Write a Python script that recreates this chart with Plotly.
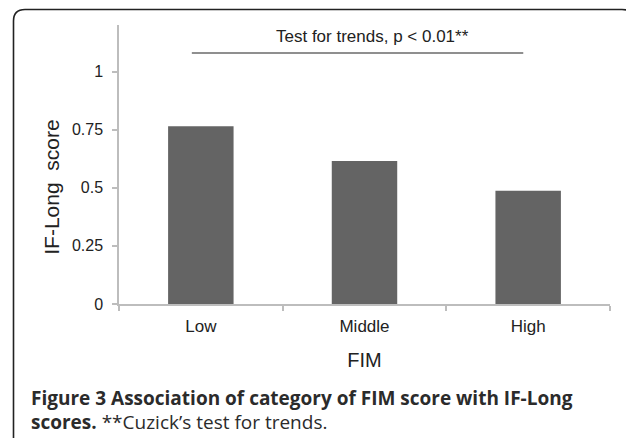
import plotly.graph_objects as go

# data
categories = ["Low", "Middle", "High"]
if_long_score = [0.765, 0.615, 0.487]
y_tickvals = [0, 0.25, 0.5, 0.75, 1]
y_ticktext = ["0", "0.25", "0.5", "0.75", "1"]
trend_label = "Test for trends, p < 0.01**"

# the page body has an 8px margin, so the figure is drawn 8px in from the corner
O = 8
W, H = 634 - O, 438 - O
L, R, T, B = 119 - O, 24, 25 - O, 134
pw, ph = W - L - R, H - T - B


def px(x):
    # screen x (reference pixels) -> paper x
    return (x - O - L) / pw


def py(y):
    # screen y (reference pixels) -> paper y
    return (H - B - (y - O)) / ph


fig = go.Figure()

fig.add_trace(go.Bar(
    x=categories,
    y=if_long_score,
    width=0.4,
    marker=dict(color="#646464", line=dict(width=0)),
    showlegend=False,
))

# trend bracket line
fig.add_shape(type="line", xref="x", yref="y",
              x0=-0.055, x1=1.97, y0=1.08, y1=1.08,
              line=dict(color="#6a6a6a", width=1.5))
fig.add_annotation(x=1.05, y=1.15, xref="x", yref="y", text=trend_label,
                   showarrow=False, font=dict(size=17, color="#222"))

# y title, centred on the 0..1 span like the original
fig.add_annotation(x=px(52), y=0.5, xref="paper", yref="y", text="IF-Long  score",
                   xanchor="center", yanchor="middle",
                   textangle=-90, showarrow=False, font=dict(size=21, color="#222"))

# rounded frame round the figure
frame = (f"M {px(13.5)} {py(445)} L {px(13.5)} {py(21)} "
         f"Q {px(13.5)} {py(9.5)} {px(25)} {py(9.5)} "
         f"L {px(622)} {py(9.5)} Q {px(634)} {py(9.5)} {px(636)} {py(21)}")
fig.add_shape(type="path", xref="paper", yref="paper", path=frame,
              line=dict(color="#222", width=1.6))

# caption
cap_font = dict(family="Open Sans, Noto Sans, sans-serif", size=19, color="#2b2b2b")
fig.add_annotation(x=px(29), y=py(398), xref="paper", yref="paper",
                   xanchor="left", yanchor="middle", showarrow=False, font=cap_font,
                   text="<b>Figure 3 Association of category of FIM score with IF-Long</b>")
fig.add_annotation(x=px(29), y=py(422), xref="paper", yref="paper",
                   xanchor="left", yanchor="middle", showarrow=False, font=cap_font,
                   text="<b>scores.</b> **Cuzick\u2019s test for trends.")

fig.update_xaxes(
    range=[-0.5, 2.5],
    showline=True, linecolor="#bdbdbd", linewidth=1.5,
    ticks="outside", tickson="boundaries", ticklen=5, tickcolor="#bdbdbd", tickwidth=1.5,
    ticklabelstandoff=6,
    tickfont=dict(size=17, color="#222"),
    title=dict(text="FIM", font=dict(size=20, color="#222"), standoff=18),
    showgrid=False, zeroline=False,
)
fig.update_yaxes(
    range=[0, 1.2],
    tickvals=y_tickvals, ticktext=y_ticktext,
    showline=True, linecolor="#bdbdbd", linewidth=1.5,
    ticks="outside", ticklen=5, tickcolor="#bdbdbd", tickwidth=1.5,
    ticklabelstandoff=6,
    tickfont=dict(size=16, color="#222"),
    showgrid=False, zeroline=False,
)

fig.update_layout(
    width=W, height=H,
    margin=dict(l=L, r=R, t=T, b=B, autoexpand=False),
    paper_bgcolor="white", plot_bgcolor="white",
    font=dict(family="Arial, Liberation Sans, sans-serif", color="#222"),
    bargap=0.6,
)

fig.write_html("out.html")
